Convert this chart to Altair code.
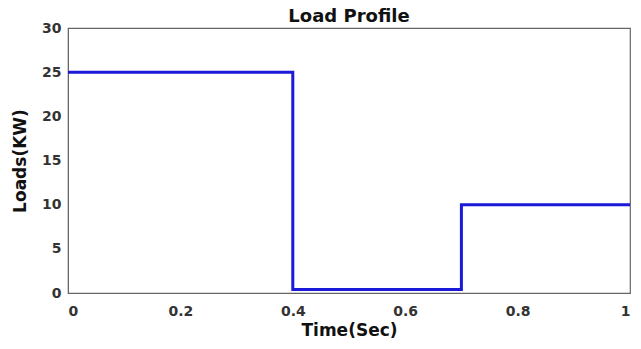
import altair as alt
import pandas as pd

time_s = [0.0, 0.4, 0.7, 1.0]
load_kw = [25.0, 0.4, 10.0, 10.0]

df = pd.DataFrame({"Time": time_s, "Load": load_kw})

FONT = "DejaVu Sans"

chart = (
    alt.Chart(df)
    .mark_line(interpolate="step-after", color="#1a1ad8", strokeWidth=3, clip=True)
    .encode(
        x=alt.X(
            "Time:Q",
            scale=alt.Scale(domain=[0, 1], nice=False, zero=False),
            axis=alt.Axis(
                title="Time(Sec)",
                values=[0, 0.2, 0.4, 0.6, 0.8, 1],
                format="~g",
                grid=False,
                ticks=False,
                labelPadding=11,
                titlePadding=4,
            ),
        ),
        y=alt.Y(
            "Load:Q",
            scale=alt.Scale(domain=[0, 30], nice=False),
            axis=alt.Axis(
                title="Loads(KW)",
                values=[0, 5, 10, 15, 20, 25, 30],
                grid=False,
                ticks=False,
                labelPadding=7,
                titlePadding=12,
            ),
        ),
    )
    .properties(
        width=562,
        height=265,
        title=alt.TitleParams(
            "Load Profile", font=FONT, fontSize=18, fontWeight="bold", color="#111",
            offset=0, dy=5,
        ),
        autosize=alt.AutoSizeParams(type="none"),
        padding={"left": 68, "top": 28, "right": 11, "bottom": 56},
    )
    .configure_view(stroke="#666", strokeWidth=1.2)
    .configure_axis(
        labelFont=FONT,
        labelFontSize=14,
        labelFontWeight="bold",
        labelColor="#333",
        titleFont=FONT,
        titleFontSize=17,
        titleFontWeight="bold",
        titleColor="#111",
        domainColor="#666",
    )
)

chart.save("out.html", embed_options={"renderer": "svg", "actions": False})
